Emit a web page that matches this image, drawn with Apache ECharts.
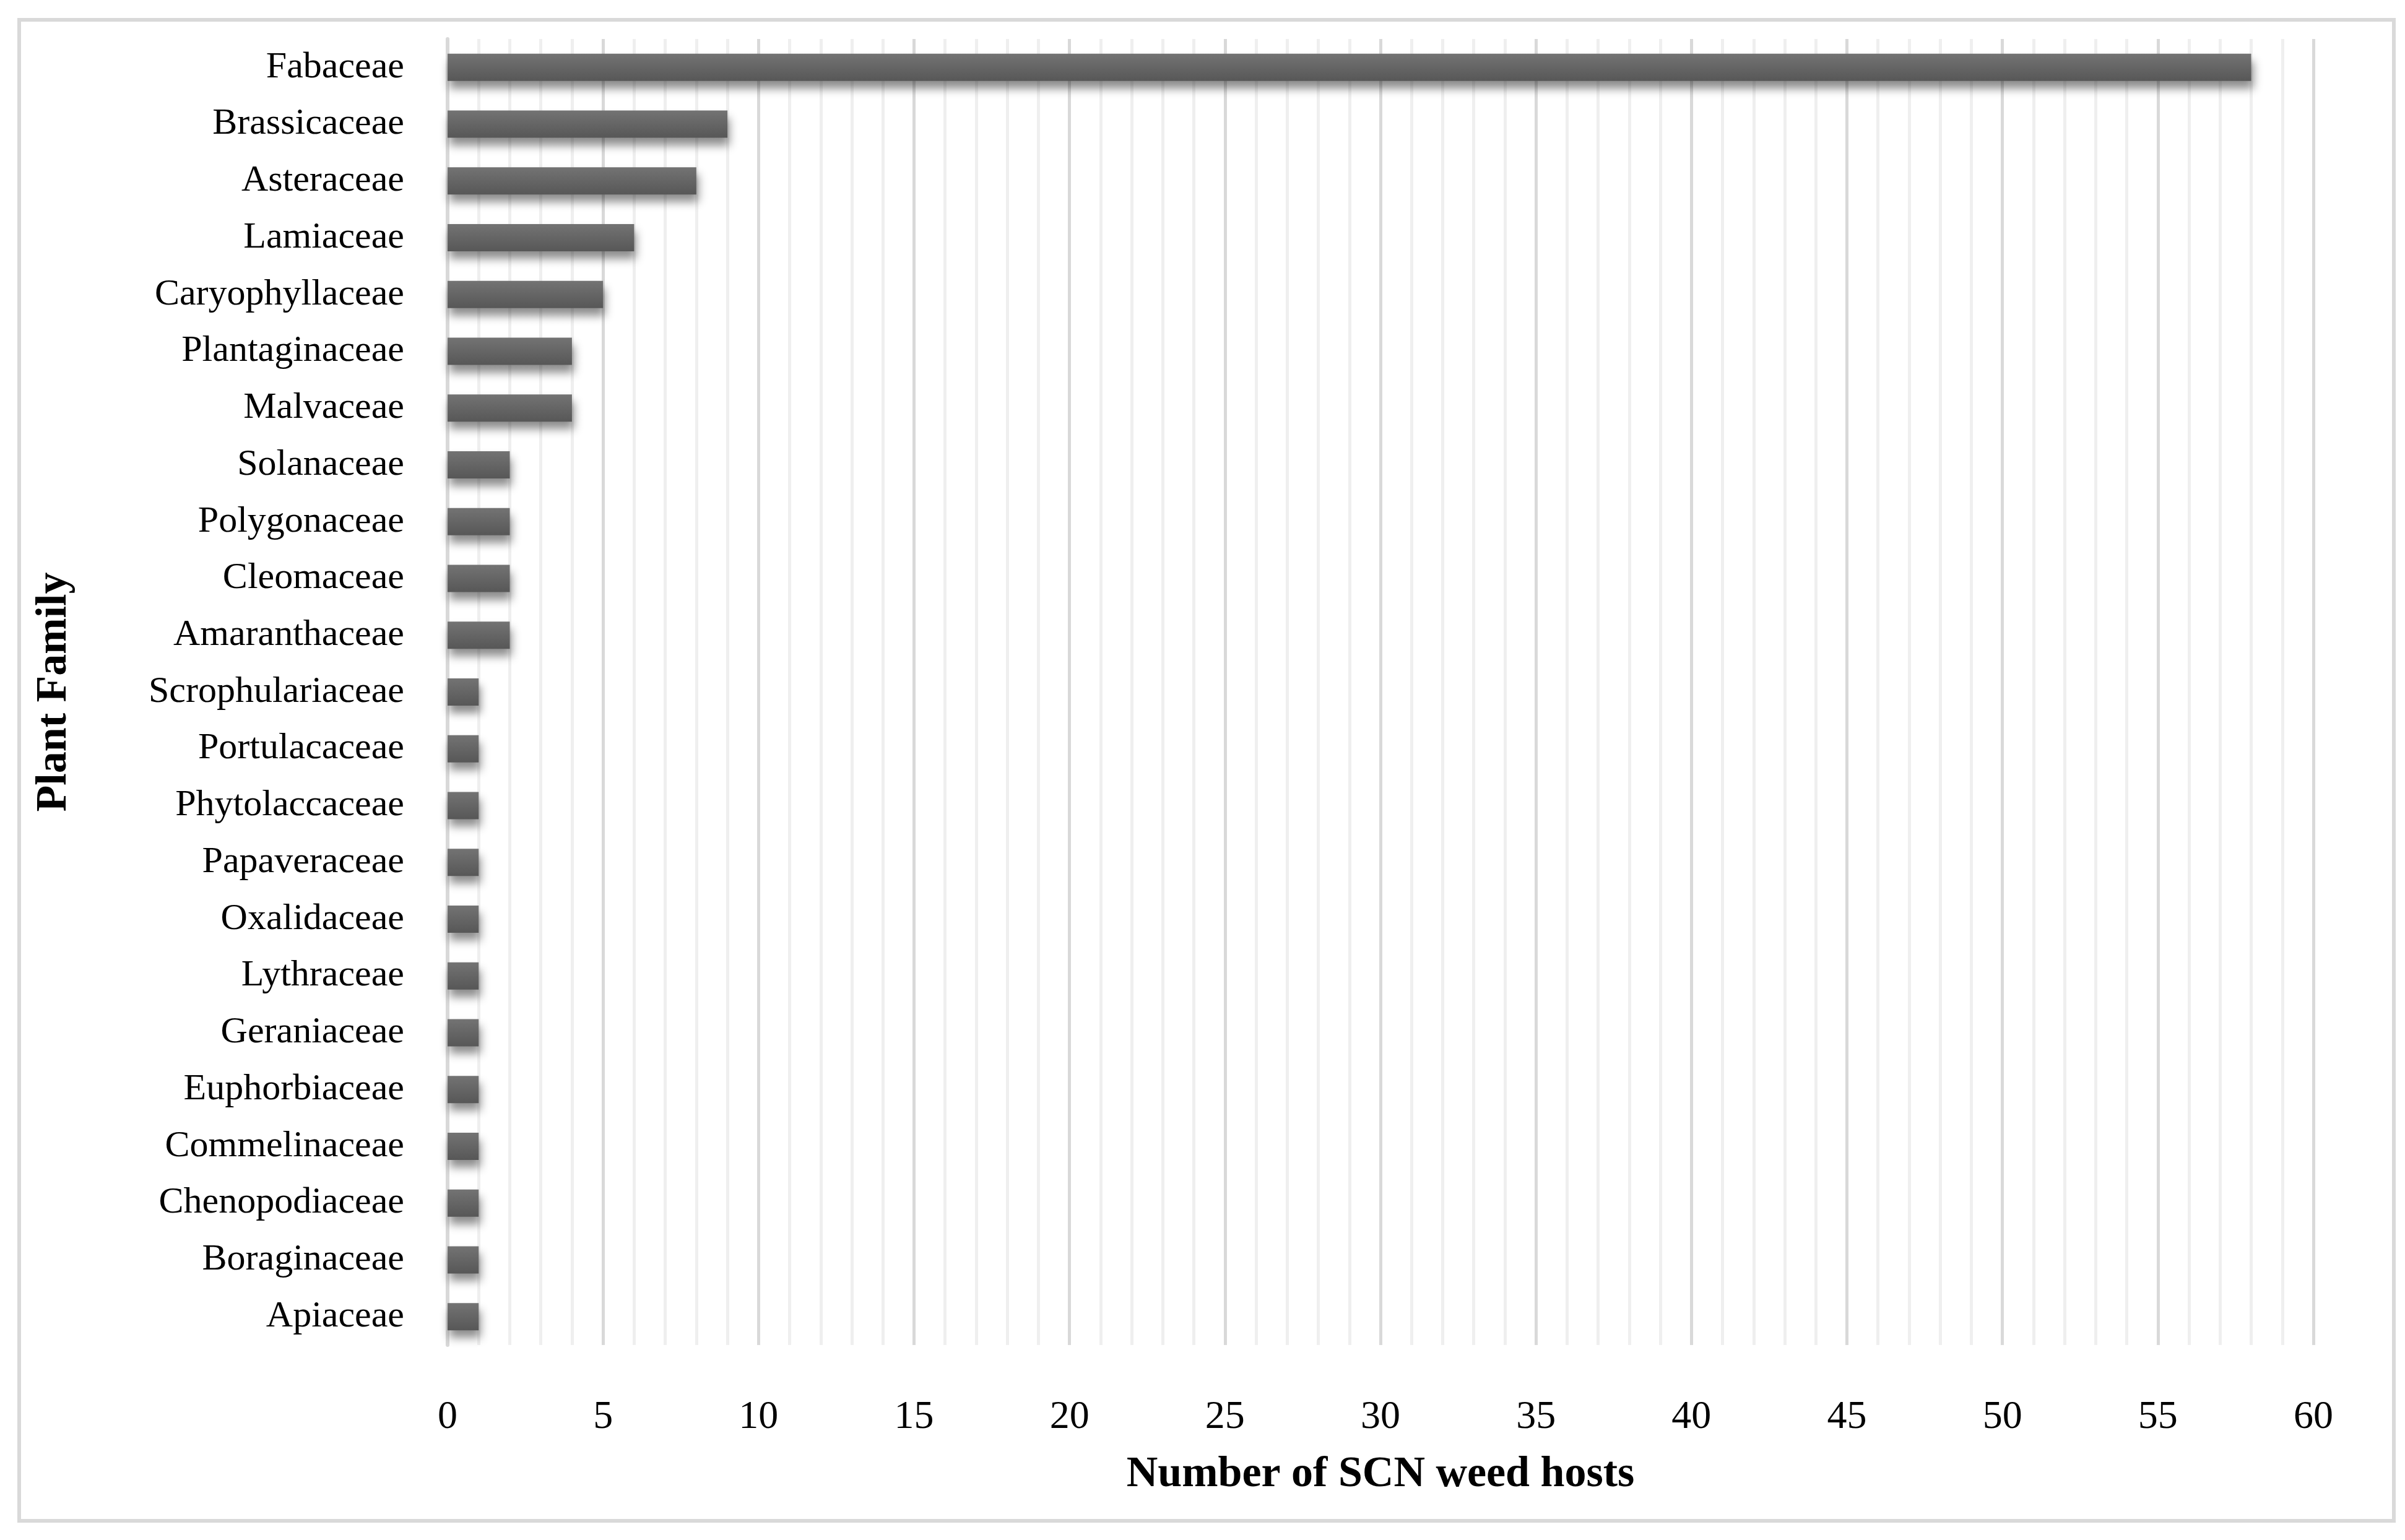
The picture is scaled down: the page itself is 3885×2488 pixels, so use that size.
<!DOCTYPE html>
<html>
<head>
<meta charset="utf-8">
<script src="https://cdn.jsdelivr.net/npm/echarts@6/dist/echarts.min.js"></script>
<style>
  html, body { margin: 0; padding: 0; background: #fff; }
  #chart { width: 3885px; height: 2488px; }
</style>
</head>
<body>
<div id="chart"></div>
<script>
// plant families, top to bottom as in the figure
var families = ['Fabaceae', 'Brassicaceae', 'Asteraceae', 'Lamiaceae', 'Caryophyllaceae',
	'Plantaginaceae', 'Malvaceae', 'Solanaceae', 'Polygonaceae', 'Cleomaceae', 'Amaranthaceae',
	'Scrophulariaceae', 'Portulacaceae', 'Phytolaccaceae', 'Papaveraceae', 'Oxalidaceae',
	'Lythraceae', 'Geraniaceae', 'Euphorbiaceae', 'Commelinaceae', 'Chenopodiaceae',
	'Boraginaceae', 'Apiaceae'];
var hosts = [58, 9, 8, 6, 5, 4, 4, 2, 2, 2, 2, 1, 1, 1, 1, 1, 1, 1, 1, 1, 1, 1, 1];

var serif = 'Liberation Serif';
var myChart = echarts.init(document.getElementById('chart'));

var option = {
	backgroundColor: '#fff',
	animation: false,
	grid: { left: 723, right: 148, top: 63, bottom: 315 },
	graphic: [{
		type: 'rect',
		shape: { x: 31, y: 32, width: 3836, height: 2425 },
		style: { fill: 'none', stroke: '#d9d9d9', lineWidth: 6 }
	}],
	xAxis: {
		type: 'value',
		min: 0,
		max: 60,
		interval: 5,
		name: 'Number of SCN weed hosts',
		nameLocation: 'middle',
		nameGap: 175,
		nameTextStyle: { fontFamily: serif, fontWeight: 'bold', fontSize: 70, color: '#000' },
		axisLine: { show: false },
		axisTick: { show: false },
		axisLabel: { fontFamily: serif, fontSize: 64, color: '#000', margin: 85 },
		splitLine: { show: true, lineStyle: { color: '#d9d9d9', width: 5 } },
		minorTick: { show: false, splitNumber: 5 },
		minorSplitLine: { show: true, lineStyle: { color: '#efefef', width: 5 } }
	},
	yAxis: {
		type: 'category',
		data: families,
		inverse: true,
		name: 'Plant Family',
		nameLocation: 'middle',
		nameGap: 600,
		nameRotate: 90,
		nameTextStyle: { fontFamily: serif, fontWeight: 'bold', fontSize: 70, color: '#000' },
		axisLine: { show: true, lineStyle: { color: '#d9d9d9', width: 6 } },
		axisTick: { show: false },
		axisLabel: { fontFamily: serif, fontSize: 60, color: '#000', margin: 70 }
	},
	series: [{
		type: 'bar',
		data: hosts,
		barWidth: 44,
		itemStyle: {
			color: new echarts.graphic.LinearGradient(0, 0, 0, 1, [
				{ offset: 0, color: '#737373' },
				{ offset: 1, color: '#575757' }
			]),
			shadowColor: 'rgba(0,0,0,0.45)',
			shadowBlur: 14,
			shadowOffsetX: 3,
			shadowOffsetY: 12
		}
	}]
};

myChart.setOption(option);
</script>
</body>
</html>
